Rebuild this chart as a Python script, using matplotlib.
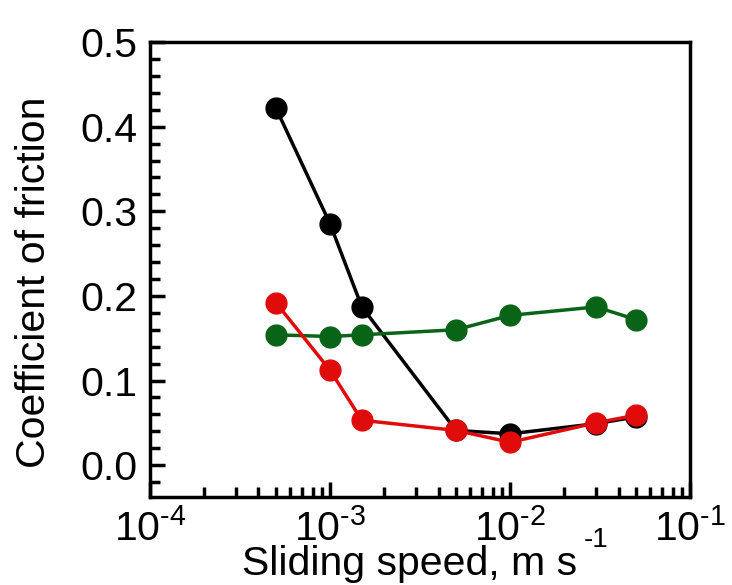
import matplotlib
matplotlib.use("Agg")
import matplotlib.pyplot as plt
from matplotlib.ticker import LogLocator, MultipleLocator, NullFormatter, FuncFormatter
import numpy as np

plt.rcParams['font.family'] = ['Liberation Sans', 'DejaVu Sans']
plt.rcParams['mathtext.fontset'] = 'custom'
plt.rcParams['mathtext.rm'] = 'Liberation Sans'
plt.rcParams['mathtext.it'] = 'Liberation Sans'

# sliding speed (m/s) and friction coefficients
speed = [5e-4, 1e-3, 1.5e-3, 5e-3, 1e-2, 3e-2, 5e-2]
mu_black = [0.422, 0.285, 0.187, 0.041, 0.037, 0.049, 0.057]
mu_green = [0.154, 0.152, 0.154, 0.160, 0.177, 0.187, 0.172]
mu_red = [0.192, 0.112, 0.053, 0.041, 0.027, 0.050, 0.059]

fig = plt.figure(figsize=(7.32, 5.85), dpi=100)
ax = fig.add_axes([0.205, 0.150, 0.738, 0.778])

ax.plot(speed, mu_black, '-o', color='black', lw=2.5, ms=15)
ax.plot(speed, mu_green, '-o', color='#0a6418', lw=2.5, ms=15)
ax.plot(speed, mu_red, '-o', color='#e00c0c', lw=2.5, ms=15)

ax.set_xscale('log')
ax.set_xlim(1e-4, 1e-1)
ax.set_ylim(-0.038, 0.5)


def fmt_pow(v, pos):
    e = int(round(np.log10(v)))
    return r'$\mathregular{10^{\text{-}%d}}$' % (-e)


ax.xaxis.set_major_locator(LogLocator(base=10, numticks=10))
ax.xaxis.set_major_formatter(FuncFormatter(fmt_pow))
ax.xaxis.set_minor_locator(LogLocator(base=10, subs=range(2, 10), numticks=20))
ax.xaxis.set_minor_formatter(NullFormatter())
ax.yaxis.set_minor_locator(MultipleLocator(0.02))
ax.set_yticks([0.0, 0.1, 0.2, 0.3, 0.4, 0.5])
ax.set_yticklabels(['0.0', '0.1', '0.2', '0.3', '0.4', '0.5'])

ax.tick_params(which='both', direction='in', top=False, right=False,
               labelsize=29.5, width=2.5)
ax.tick_params(which='major', length=11)
ax.tick_params(axis='y', which='major', pad=9)
ax.tick_params(axis='x', which='major', pad=8)
ax.tick_params(which='minor', length=7)

for s in ax.spines.values():
    s.set_linewidth(2.5)

# x label with its unit exponent as a small raised text
ax.set_xlabel('Sliding speed, m s', fontsize=29.5, va='baseline')
ax.xaxis.set_label_coords(0.48, -0.171)
fig.text(0.798, 0.065, '-1', fontsize=20, va='baseline')

ax.set_ylabel('Coefficient of friction', fontsize=29.5, labelpad=20)
ax.yaxis.label.set_y(0.472)

fig.savefig('out.png', dpi=100)
